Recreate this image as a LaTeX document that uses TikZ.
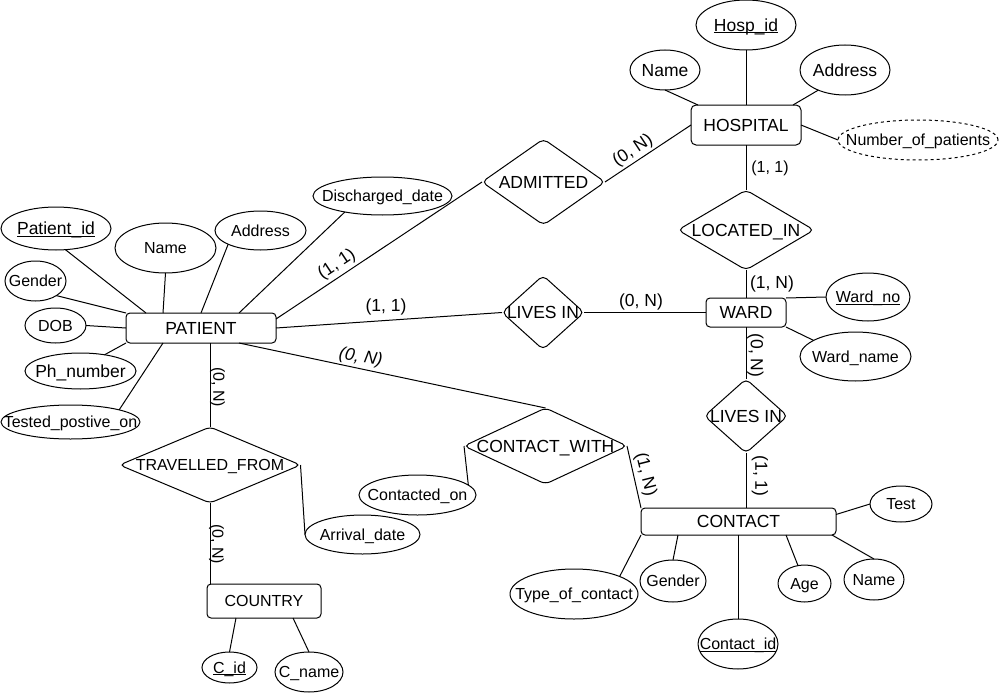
\documentclass[tikz,border=0pt]{standalone}
\usepackage{fontspec}
\setmainfont{Liberation Sans}
\usetikzlibrary{shapes.geometric,calc}

\newcommand\bigfs{\fontsize{17.5}{21}\selectfont}
\newcommand\smallfs{\fontsize{16}{19}\selectfont}
% zero-width centred text, so the shape size is set only by minimum width/height
\newcommand\zw[1]{\makebox[0pt]{#1}}
% key attribute underline, close to the baseline
\newcommand\keyul[1]{\setbox0\hbox{#1}\rlap{\rule[-2pt]{\wd0}{0.9pt}}\box0}

\tikzset{
  conn/.style={line width=1pt, draw=black},
  fbig/.style={font=\bigfs, text height=12.5pt, text depth=0pt},
  fsmall/.style={font=\smallfs, text height=11.5pt, text depth=0pt},
  sz/.style 2 args={minimum width=#1, minimum height=#2},
  ent/.style={draw, line width=1pt, rectangle, rounded corners=4pt, inner sep=0pt, outer sep=0pt},
  rel/.style={draw, line width=1pt, diamond, rounded corners=5pt, inner sep=0pt, outer sep=0pt},
  attr/.style={draw, line width=1pt, ellipse, inner sep=0pt, outer sep=0pt},
  card/.style={inner sep=0pt},
}

\begin{document}
\begin{tikzpicture}[x=1pt,y=-1pt]
\fill[white] (0,0) rectangle (999,693);
\useasboundingbox (0,0) rectangle (999,693);

% entities
\node[ent,fbig,sz={110}{40},rounded corners=5pt] (hospital) at (746,125) {\zw{HOSPITAL}};
\node[ent,fbig,sz={80}{29}] (ward) at (746,312.5) {\zw{WARD}};
\node[ent,fbig,sz={150}{30}] (patient) at (201,328) {\zw{PATIENT}};
\node[ent,fsmall,sz={114}{34}] (country) at (264,601) {\zw{COUNTRY}};
\node[ent,fbig,sz={195}{27}] (contact) at (738.5,521.5) {\zw{CONTACT}};

% relationships
\node[rel,fbig,sz={123}{86}] (admitted) at (543.5,182) {\zw{ADMITTED}};
\node[rel,fbig,sz={136}{80}] (locatedin) at (746,230) {\zw{LOCATED\_IN}};
\node[rel,fbig,sz={82}{74}] (livesA) at (543,312.5) {\zw{LIVES IN}};
\node[rel,fbig,sz={83}{74}] (livesB) at (746,416) {\zw{LIVES IN}};
\node[rel,fsmall,sz={181}{76}] (travelled) at (210,465) {\zw{TRAVELLED\_FROM}};
\node[rel,fbig,sz={163}{76}] (contactwith) at (545.5,446) {\zw{CONTACT\_WITH}};

% attributes of HOSPITAL
\node[attr,fbig,sz={100}{50}] (hospid) at (746,25) {\zw{\keyul{Hosp\_id}}};
\node[attr,fbig,sz={70}{40}] (hname) at (665,70) {\zw{Name}};
\node[attr,fbig,sz={90}{50}] (haddr) at (845,70) {\zw{Address}};
\node[attr,fsmall,sz={160}{40},dash pattern=on 3pt off 3pt] (hnum) at (918,140) {\zw{Number\_of\_patients}};

% attributes of WARD
\node[attr,fsmall,sz={84}{48}] (wardno) at (868,297) {\zw{\keyul{Ward\_no}}};
\node[attr,fsmall,sz={111}{49}] (wardname) at (855.5,356.5) {\zw{Ward\_name}};

% attributes of PATIENT
\node[attr,fbig,sz={110}{43}] (patid) at (56,228.5) {\zw{\keyul{Patient\_id}}};
\node[attr,fsmall,sz={101}{50}] (pname) at (165.5,248) {\zw{Name}};
\node[attr,fsmall,sz={91}{39}] (paddr) at (260.5,230.5) {\zw{Address}};
\node[attr,fsmall,sz={139}{38}] (pdis) at (382.5,196) {\zw{Discharged\_date}};
\node[attr,fsmall,sz={61}{40}] (pgender) at (35.5,281) {\zw{Gender}};
\node[attr,fsmall,sz={61}{35}] (pdob) at (55.5,325.5) {\zw{DOB}};
\node[attr,fbig,sz={111}{36}] (pph) at (80.5,371) {\zw{Ph\_number}};
\node[attr,fsmall,sz={139}{34}] (ptest) at (70.5,422) {\zw{Tested\_postive\_on}};

% attributes of COUNTRY and the relationships
\node[attr,fsmall,sz={55}{31}] (cid) at (229.5,667.5) {\zw{\keyul{C\_id}}};
\node[attr,fsmall,sz={68}{40}] (cname) at (309,672) {\zw{C\_name}};
\node[attr,fsmall,sz={115}{39}] (arrival) at (362.5,534.5) {\zw{Arrival\_date}};
\node[attr,fsmall,sz={117}{40}] (contacted) at (417.5,495) {\zw{Contacted\_on}};

% attributes of CONTACT
\node[attr,fsmall,sz={62}{36}] (test) at (901,504) {\zw{Test}};
\node[attr,fsmall,sz={60}{41}] (cnm) at (874,579.5) {\zw{Name}};
\node[attr,fsmall,sz={53}{37}] (age) at (804.5,583.5) {\zw{Age}};
\node[attr,fsmall,sz={80}{50}] (contactid) at (738,644) {\zw{\keyul{Contact\_id}}};
\node[attr,fsmall,sz={66}{42}] (cgender) at (673,581) {\zw{Gender}};
\node[attr,fsmall,sz={128}{50}] (toc) at (574,594) {\zw{Type\_of\_contact}};

% HOSPITAL connectors
\draw[conn] (hospid) -- (hospital);
\draw[conn] (hname.south) -- ($(hospital.north west)+(7,0)$);
\draw[conn] (haddr.217) -- ($(hospital.north east)+(-8,0)$);
\draw[conn] (hnum.west) -- (hospital.east);
\draw[conn] (admitted.east) -- (hospital.west);
\draw[conn] (hospital) -- (locatedin);
\draw[conn] (locatedin) -- (ward);

% WARD connectors
\draw[conn] (ward.north east) -- (wardno.west);
\draw[conn] (ward.south east) -- (wardname.159);
\draw[conn] (livesA.east) -- (ward.west);
\draw[conn] (ward) -- (livesB);
\draw[conn] (livesB) -- (livesB |- contact.north);

% PATIENT connectors
\draw[conn] ($(patient.east)+(0,-9)$) -- (admitted.west);
\draw[conn] (patient.east) -- (livesA.west);
\draw[conn] ($(patient.south east)+(-37,0)$) -- (contactwith.north);
\draw[conn] (travelled.north |- patient.south) -- (travelled.north);
\draw[conn] (patid.-66) -- ($(patient.north west)+(20,0)$);
\draw[conn] (pname.south) -- ($(patient.north west)+(37,0)$);
\draw[conn] (paddr.203) -- (patient.north);
\draw[conn] (pdis.203) -- ($(patient.north east)+(-37,0)$);
\draw[conn] (pgender.-35) -- (patient.north west);
\draw[conn] (pdob.east) -- (patient.west);
\draw[conn] (pph.34) -- (patient.south west);
\draw[conn] (ptest.14) -- ($(patient.south west)+(37,0)$);

% TRAVELLED_FROM and COUNTRY connectors
\draw[conn] (travelled.south) -- (travelled.south |- country.north);
\draw[conn] (travelled.east) -- (arrival.west);
\draw[conn] ($(country.south west)+(29,0)$) -- (cid.north);
\draw[conn] ($(country.south east)+(-28,0)$) -- (cname.north);

% CONTACT_WITH and CONTACT connectors
\draw[conn] (contactwith.west) -- (contacted.11);
\draw[conn] (contactwith.east) -- (contact.north west);
\draw[conn] ($(contact.east)+(0,-7)$) -- (test.west);
\draw[conn] ($(contact.south east)+(-4,0)$) -- (cnm.north);
\draw[conn] ($(contact.south)+(47.5,0)$) -- (age.110);
\draw[conn] (contactid.north |- contact.south) -- (contactid.north);
\draw[conn] ($(contact.south)+(-60.5,0)$) -- (cgender.north);
\draw[conn] (contact.south west) -- (toc.21);

% cardinalities
\node[card,fbig,rotate=33.5] (cAdmHos) at (632,149) {(0, N)};
\node[card,fsmall] (cHosLoc) at (770,167) {(1, 1)};
\node[card,fbig] (cLocWard) at (772,282) {(1, N)};
\node[card,fbig] (cLivWard) at (641,300) {(0, N)};
\node[card,fbig] (cPatLiv) at (386,305) {(1, 1)};
\node[card,fbig,rotate=33.6] (cPatAdm) at (336,263) {(1, 1)};
\node[card,fbig,rotate=-10,font=\bigfs\itshape] (cPatCon) at (361,356) {(0, N)};
\node[card,fsmall,rotate=-90] (cPatTrav) at (219,387) {(0, N)};
\node[card,fsmall,rotate=-90] (cTravCou) at (218,544) {(0, N)};
\node[card,fbig,rotate=-90] (cWardLiv) at (757,355.5) {(0, N)};
\node[card,fbig,rotate=-90] (cLivCon) at (761.5,476) {(1, 1)};
\node[card,fbig,rotate=-76] (cConCon) at (647,474) {(1, N)};
\end{tikzpicture}
\end{document}
